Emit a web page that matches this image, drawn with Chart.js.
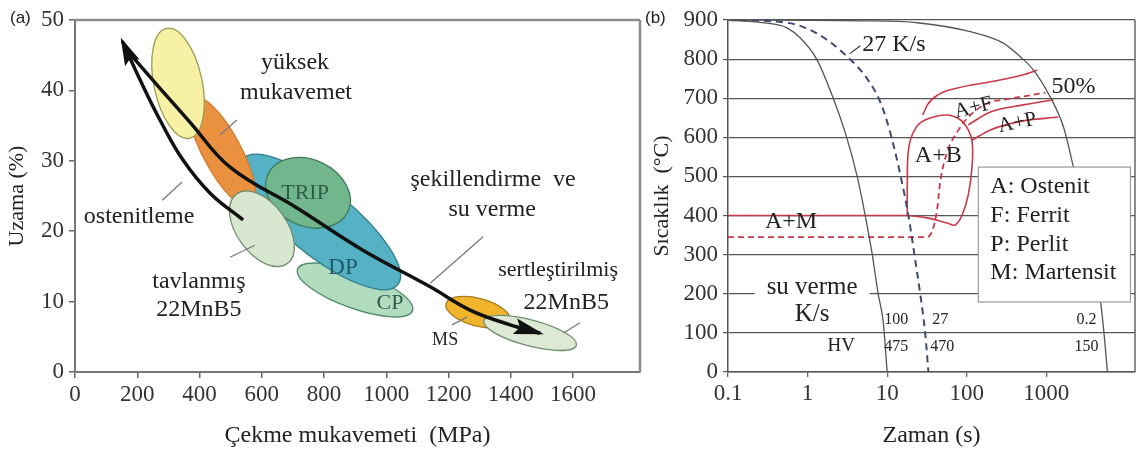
<!DOCTYPE html>
<html>
<head>
<meta charset="utf-8">
<script src="https://cdn.jsdelivr.net/npm/chart.js@4.4.0/dist/chart.umd.min.js"></script>
<style>
  html, body { margin: 0; padding: 0; background: #fff; }
  #wrapA { position: absolute; left: 0; top: 0; width: 645px; height: 453px; }
  #wrapB { position: absolute; left: 645px; top: 0; width: 493px; height: 453px; }
</style>
</head>
<body>
<div id="wrapA"><canvas id="chartA"></canvas></div>
<div id="wrapB"><canvas id="chartB"></canvas></div>
<script>
// ---------- (a) strength vs elongation ----------
const strengthTicks = [0, 200, 400, 600, 800, 1000, 1200, 1400, 1600];
const elongationTicks = [0, 10, 20, 30, 40, 50];

// steel groups, drawn back to front; each one is an ellipse given by the two
// ends of its long axis [MPa, %] and the short/long axis ratio
const gradeNames = ['CP', 'DP', 'TRIP', 'yüksek mukavemet', 'yumuşak', 'tavlanmış 22MnB5', 'MS', 'sertleştirilmiş 22MnB5'];
const gradeAxisFrom = [[715, 14.6], [537, 30.2], [620, 28.1], [379, 39.0], [294, 48.8], [519, 25.3], [1192, 9.7], [1313, 7.3]];
const gradeAxisTo = [[1084, 8.7], [1037, 12.4], [877, 22.8], [566, 23.5], [368, 33.2], [682, 15.4], [1397, 7.3], [1611, 3.8]];
const gradeRatio = [0.30, 0.33, 0.75, 0.31, 0.43, 0.58, 0.42, 0.27];

// the two process arrows [MPa, %]
const austenitizePath = [[540, 21.6], [434, 25.4], [347, 30.1], [273, 35.8], [209, 41.5], [152, 47.0]];
const formingPath = [[167, 45.7], [273, 40.3], [369, 35.5], [498, 29.1], [713, 23.3], [925, 17.3], [1141, 12.1], [1269, 8.8], [1398, 6.7], [1494, 5.5]];

// ---------- (b) CCT diagram ----------
const timeTicks = [0.1, 1, 10, 100, 1000];
const tempTicks = [0, 100, 200, 300, 400, 500, 600, 700, 800, 900];

// cooling curves [s, °C]
const cool100 = [[0.1, 900], [0.31, 892], [0.55, 880], [0.81, 854], [1.3, 800], [2.1, 700], [3.1, 600], [4.2, 500], [5.3, 400], [6.5, 300], [7.7, 200], [8.9, 130], [10, 0]];
const cool27 = [[0.1, 900], [0.55, 893], [1.3, 866], [3.2, 805], [5.6, 750], [8.2, 690], [11, 610], [14.8, 500], [18.5, 400], [22, 300], [26, 200], [30, 100], [33, 0]];
const cool02 = [[0.1, 900], [4.6, 898], [24, 893], [111, 870], [288, 841], [470, 806], [690, 772], [1120, 703], [1640, 627], [2190, 524], [2900, 420], [3600, 320], [4300, 230], [4800, 179], [5300, 100], [5850, 0]];

// phase boundaries [s, °C]
const lineAM = [[0.1, 400], [17.9, 400]];
const loopAB = [[17.9, 400], [17.9, 486], [18.4, 563], [20.6, 606], [26, 637], [37.9, 652], [56.9, 657], [82.8, 645], [104.5, 619], [117, 588], [117, 529], [104.5, 453], [87.7, 402], [71.7, 376], [56.9, 381], [31.9, 394], [17.9, 400]];
const outerAF = [[28, 657], [32, 683], [43, 708], [76, 726], [198, 742], [514, 760], [771, 772]];
const lineAF = [[104.5, 632], [198, 665], [514, 683], [1225, 696]];
const lineAP = [[117, 593], [198, 619], [514, 642], [1416, 652]];
const line50 = [[0.1, 345], [31.9, 345], [37.9, 368], [42.6, 419], [46.4, 486], [56.9, 563], [76, 614], [111, 657], [198, 690], [288, 696], [971, 714]];

// table under the curves
const rateLabels = ['100', '27', '0.2'];
const hardnessLabels = ['475', '470', '150'];
const legendLines = ['A: Ostenit', 'F: Ferrit', 'P: Perlit', 'M: Martensit'];

// ---------- styling ----------
const serif = '"Liberation Serif", "Times New Roman", serif';
const sans = '"Liberation Sans", Arial, sans-serif';
const gradeFill = ['#b2dcc0', '#55b2c4', '#72b68e', '#ea9140', '#f7f1a6', '#d8e7d0', '#f0b52c', '#dde9d4'];
const gradeEdge = ['#4d8a6c', '#2f7c8a', '#3e7a58', '#d07a30', '#9c9a55', '#6e8e70', '#a87d1e', '#6e8e70'];
const red = '#c83a48';

const toXY = arr => arr.map(p => ({ x: p[0], y: p[1] }));

function drawText(ctx, text, x, y, o = {}) {
  ctx.save();
  ctx.font = (o.size || 24) + 'px ' + (o.family || serif);
  ctx.textAlign = o.align || 'center';
  ctx.textBaseline = 'middle';
  ctx.translate(x, y);
  if (o.rot) ctx.rotate(o.rot * Math.PI / 180);
  if (o.bg) {
    const w = ctx.measureText(text).width + o.bg * 2;
    ctx.fillStyle = '#fff';
    ctx.fillRect(-w / 2, -11, w, 22);
  }
  ctx.fillStyle = o.color || '#222';
  ctx.fillText(text, 0, 0);
  ctx.restore();
}

function line(ctx, x1, y1, x2, y2, color, w) {
  ctx.save();
  ctx.strokeStyle = color;
  ctx.lineWidth = w;
  ctx.beginPath();
  ctx.moveTo(x1, y1);
  ctx.lineTo(x2, y2);
  ctx.stroke();
  ctx.restore();
}

function arrowHead(ctx, meta, len, half) {
  const pts = meta.data;
  const p = pts[pts.length - 1];
  const q = p.cp1x !== undefined ? { x: p.cp1x, y: p.cp1y } : pts[pts.length - 2];
  const a = Math.atan2(p.y - q.y, p.x - q.x);
  ctx.save();
  ctx.translate(p.x, p.y);
  ctx.rotate(a);
  ctx.fillStyle = '#111';
  ctx.beginPath();
  ctx.moveTo(4, 0);
  ctx.lineTo(-len, -half);
  ctx.lineTo(-len + 5, 0);
  ctx.lineTo(-len, half);
  ctx.closePath();
  ctx.fill();
  ctx.restore();
}

// labels of panel (a), placed in data units
const notesA = [
  { text: 'yüksek', at: [707, 43.9] },
  { text: 'mukavemet', at: [710, 39.7] },
  { text: 'TRIP', at: [739, 25.4], color: '#2f5e4a', size: 22 },
  { text: 'ostenitleme', at: [206, 22.0] },
  { text: 'şekillendirme  ve', at: [1343, 27.3] },
  { text: 'su verme', at: [1340, 23.0] },
  { text: 'tavlanmış', at: [398, 12.8] },
  { text: '22MnB5', at: [398, 8.8] },
  { text: 'DP', at: [861, 14.8], color: '#1f5a66', size: 23 },
  { text: 'CP', at: [1012, 9.8], color: '#2f5e4a', size: 22 },
  { text: 'MS', at: [1189, 4.5], size: 18 },
  { text: 'sertleştirilmiş', at: [1552, 14.5], size: 22 },
  { text: '22MnB5', at: [1578, 9.9] }
];
const leadersA = [
  [[466, 33.7], [520, 35.8]],
  [[280, 24.4], [344, 27.0]],
  [[498, 16.3], [578, 18.0]],
  [[1141, 12.6], [1311, 19.2]],
  [[1211, 6.7], [1259, 7.8]],
  [[1568, 5.5], [1622, 7.0]]
];

const panelA = {
  id: 'panelA',
  beforeDatasetsDraw(chart) {
    const { ctx, chartArea: ca, scales: { x, y } } = chart;
    ctx.save();
    ctx.beginPath();
    ctx.rect(ca.left, ca.top, ca.width, ca.height);
    ctx.clip();
    gradeNames.forEach((name, i) => {
      const x1 = x.getPixelForValue(gradeAxisFrom[i][0]), y1 = y.getPixelForValue(gradeAxisFrom[i][1]);
      const x2 = x.getPixelForValue(gradeAxisTo[i][0]), y2 = y.getPixelForValue(gradeAxisTo[i][1]);
      const a = Math.hypot(x2 - x1, y2 - y1) / 2;
      ctx.beginPath();
      ctx.ellipse((x1 + x2) / 2, (y1 + y2) / 2, a, a * gradeRatio[i], Math.atan2(y2 - y1, x2 - x1), 0, Math.PI * 2);
      ctx.fillStyle = gradeFill[i];
      ctx.fill();
      ctx.lineWidth = 1.3;
      ctx.strokeStyle = gradeEdge[i];
      ctx.stroke();
    });
    ctx.restore();
  },
  afterDatasetsDraw(chart) {
    const { ctx, chartArea: ca, scales: { x, y } } = chart;
    arrowHead(ctx, chart.getDatasetMeta(0), 24, 8);
    arrowHead(ctx, chart.getDatasetMeta(1), 26, 8);
    leadersA.forEach(l => line(ctx, x.getPixelForValue(l[0][0]), y.getPixelForValue(l[0][1]),
      x.getPixelForValue(l[1][0]), y.getPixelForValue(l[1][1]), '#7a7a7a', 1.3));
    notesA.forEach(n => drawText(ctx, n.text, x.getPixelForValue(n.at[0]), y.getPixelForValue(n.at[1]), n));
    // frame
    line(ctx, ca.left, ca.top, ca.right, ca.top, '#8c8c8c', 2.5);
    line(ctx, ca.right, ca.top, ca.right, ca.bottom, '#8c8c8c', 2.5);
    drawText(ctx, '(a)', ca.left - 65, ca.top - 2, { family: sans, size: 17, align: 'left' });
  }
};

// labels of panel (b), placed in data units
const notesB = [
  { text: '27 K/s', at: [4.85, 836], align: 'left' },
  { text: '50%', at: [2188, 729] },
  { text: 'A+F', at: [121, 675], rot: -14, size: 21 },
  { text: 'A+P', at: [432, 637], rot: -12, size: 21 },
  { text: 'A+B', at: [43.9, 552] },
  { text: 'A+M', at: [0.62, 384] },
  { text: 'su verme', at: [1.14, 217], bg: 12, size: 25 },
  { text: 'K/s', at: [1.14, 146], size: 25 },
  { text: 'HV', at: [2.64, 66], size: 19 }
];
const rateX = [13.0, 46.4, 3184];
const hardX = [13.0, 49.2, 3184];

const panelB = {
  id: 'panelB',
  afterDatasetsDraw(chart) {
    const { ctx, chartArea: ca, scales: { x, y } } = chart;
    const P = (t, T) => [x.getPixelForValue(t), y.getPixelForValue(T)];
    // legend box
    const [bx1, by1] = P(139.7, 524), [bx2, by2] = P(11400, 179);
    ctx.save();
    ctx.fillStyle = '#fff';
    ctx.fillRect(bx1, by1, bx2 - bx1, by2 - by1);
    ctx.strokeStyle = '#9a9a9a';
    ctx.lineWidth = 1.2;
    ctx.strokeRect(bx1, by1, bx2 - bx1, by2 - by1);
    ctx.restore();
    [473, 399, 325, 253].forEach((T, i) => {
      const [lx, ly] = P(198, T);
      drawText(ctx, legendLines[i], lx, ly, { align: 'left', size: 24 });
    });
    notesB.forEach(n => {
      const [px, py] = P(n.at[0], n.at[1]);
      drawText(ctx, n.text, px, py, n);
    });
    // leader to the 27 K/s curve
    const [l1x, l1y] = P(3.4, 814), [l2x, l2y] = P(4.6, 834);
    line(ctx, l1x, l1y, l2x, l2y, '#333', 1.2);
    rateLabels.forEach((s, i) => {
      const [px, py] = P(rateX[i], 133);
      drawText(ctx, s, px, py, { size: 16 });
    });
    hardnessLabels.forEach((s, i) => {
      const [px, py] = P(hardX[i], 64);
      drawText(ctx, s, px, py, { size: 16 });
    });
    line(ctx, ca.right, ca.top, ca.right, ca.bottom, '#666', 1.5);
    drawText(ctx, '(b)', ca.left - 83, ca.top - 2, { family: sans, size: 17, align: 'left' });
  }
};

const tickFont = { family: serif, size: 23 };

new Chart(document.getElementById('chartA'), {
  type: 'scatter',
  data: {
    datasets: [
      { data: toXY(austenitizePath), showLine: true, borderColor: '#111', borderWidth: 3.5, pointRadius: 0, tension: 0.4 },
      { data: toXY(formingPath), showLine: true, borderColor: '#111', borderWidth: 3.5, pointRadius: 0, tension: 0.4 }
    ]
  },
  options: {
    responsive: true,
    maintainAspectRatio: false,
    animation: false,
    layout: { padding: { top: 20, right: 5, left: 0, bottom: 0 } },
    plugins: { legend: { display: false }, tooltip: { enabled: false } },
    scales: {
      x: {
        type: 'linear', min: 0, max: 1815,
        afterBuildTicks: s => { s.ticks = strengthTicks.map(v => ({ value: v })); },
        afterFit: s => { s.height = 81; },
        ticks: { font: tickFont, color: '#333', padding: 3, maxRotation: 0, autoSkip: false, callback: v => String(v) },
        grid: { drawOnChartArea: false, tickLength: 6, color: '#666', lineWidth: 1.5 },
        border: { color: '#777', width: 2 },
        title: { display: true, text: 'Çekme mukavemeti  (MPa)', font: { family: serif, size: 24 }, color: '#222', padding: { top: 4, bottom: 3 } }
      },
      y: {
        type: 'linear', min: 0, max: 50,
        afterBuildTicks: s => { s.ticks = elongationTicks.map(v => ({ value: v })); },
        afterFit: s => { s.width = 75; },
        ticks: { font: tickFont, color: '#333', padding: 5, callback: v => String(v) },
        grid: { drawOnChartArea: false, tickLength: 6, color: '#666', lineWidth: 1.5 },
        border: { color: '#777', width: 2 },
        title: { display: true, text: 'Uzama (%)', font: { family: serif, size: 22 }, color: '#222', padding: { top: 4, bottom: 4 } }
      }
    }
  },
  plugins: [panelA]
});

const curve = (arr, color, width, dash, extra) => Object.assign({
  data: toXY(arr), showLine: true, borderColor: color, borderWidth: width,
  borderDash: dash || [], pointRadius: 0, cubicInterpolationMode: 'monotone'
}, extra || {});

new Chart(document.getElementById('chartB'), {
  type: 'scatter',
  data: {
    datasets: [
      curve(cool100, '#555', 1.3),
      curve(cool27, '#3d4a75', 2, [7, 5]),
      curve(cool02, '#555', 1.3),
      curve(lineAM, red, 1.6),
      curve(loopAB, red, 1.6, null, { cubicInterpolationMode: 'default', tension: 0.4 }),
      curve(outerAF, red, 1.6),
      curve(lineAF, red, 1.6),
      curve(lineAP, red, 1.6),
      curve(line50, red, 1.8, [6, 4])
    ]
  },
  options: {
    responsive: true,
    maintainAspectRatio: false,
    animation: false,
    layout: { padding: { top: 20, right: 3, left: 0, bottom: 0 } },
    plugins: { legend: { display: false }, tooltip: { enabled: false } },
    scales: {
      x: {
        type: 'logarithmic', min: 0.1, max: 13000,
        afterBuildTicks: s => { s.ticks = timeTicks.map(v => ({ value: v })); },
        afterFit: s => { s.height = 81; },
        ticks: { font: tickFont, color: '#333', padding: 3, maxRotation: 0, autoSkip: false, callback: v => String(v) },
        grid: { drawOnChartArea: false, tickLength: 5, color: '#666', lineWidth: 1.3 },
        border: { color: '#555', width: 1.5 },
        title: { display: true, text: 'Zaman (s)', font: { family: serif, size: 24 }, color: '#222', padding: { top: 4, bottom: 3 } }
      },
      y: {
        type: 'linear', min: 0, max: 900,
        afterBuildTicks: s => { s.ticks = tempTicks.map(v => ({ value: v })); },
        afterFit: s => { s.width = 83; },
        ticks: { font: tickFont, color: '#333', padding: 5, callback: v => String(v) },
        grid: { drawOnChartArea: true, tickLength: 5, color: '#555', lineWidth: 1.2 },
        border: { color: '#555', width: 1.5 },
        title: { display: true, text: 'Sıcaklık  (°C)', font: { family: serif, size: 22 }, color: '#222', padding: { top: 4, bottom: 4 } }
      }
    }
  },
  plugins: [panelB]
});
</script>
</body>
</html>
